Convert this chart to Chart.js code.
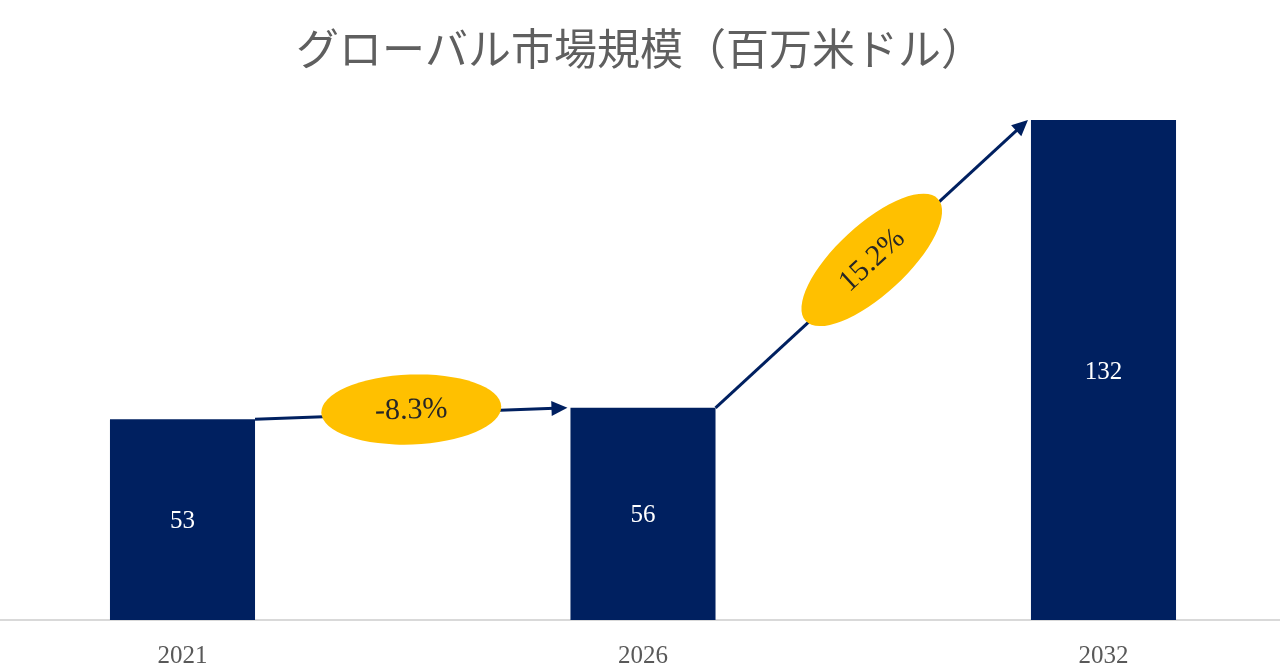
<!DOCTYPE html>
<html lang="ja">
<head>
<meta charset="utf-8">
<title>グローバル市場規模</title>
<script src="https://cdn.jsdelivr.net/npm/chart.js@4"></script>
<style>
  html, body { margin: 0; padding: 0; background: #fff; }
  #wrap { width: 1280px; height: 670px; }
</style>
</head>
<body>
<div id="wrap"><canvas id="mercado"></canvas></div>
<script>
// Datos
var years = ["2021", "2026", "2032"];
var marketSize = [53, 56, 132];
var growthLabels = ["-8.3%", "15.2%"];

var NAVY = "#002060";
var GOLD = "#FFC000";
var SERIF = "'Liberation Serif', 'Times New Roman', 'Noto Sans CJK JP', serif";

// Etiquetas de valor, flechas y elipses de crecimiento
var overlay = {
  id: "overlay",
  afterDatasetsDraw: function (chart) {
    var ctx = chart.ctx;
    var bars = chart.getDatasetMeta(0).data;

    ctx.save();
    // flechas entre barras
    for (var i = 0; i < growthLabels.length; i++) {
      var a = bars[i], b = bars[i + 1];
      var x1 = a.x + a.width / 2, y1 = a.y;
      var x2 = b.x - b.width / 2 - 3, y2 = b.y;
      var ang = Math.atan2(y2 - y1, x2 - x1);
      var head = 16;

      ctx.strokeStyle = NAVY;
      ctx.fillStyle = NAVY;
      ctx.lineWidth = 3;
      ctx.beginPath();
      ctx.moveTo(x1, y1);
      ctx.lineTo(x2 - head * 0.8 * Math.cos(ang), y2 - head * 0.8 * Math.sin(ang));
      ctx.stroke();

      ctx.beginPath();
      ctx.moveTo(x2, y2);
      ctx.lineTo(x2 - head * Math.cos(ang) + 7.5 * Math.sin(ang), y2 - head * Math.sin(ang) - 7.5 * Math.cos(ang));
      ctx.lineTo(x2 - head * Math.cos(ang) - 7.5 * Math.sin(ang), y2 - head * Math.sin(ang) + 7.5 * Math.cos(ang));
      ctx.closePath();
      ctx.fill();

      // elipse con la tasa
      var mx = (x1 + x2) / 2, my = (y1 + y2) / 2 - 4;
      ctx.save();
      ctx.translate(mx, my);
      ctx.rotate(ang);
      ctx.fillStyle = GOLD;
      ctx.beginPath();
      ctx.ellipse(0, 0, 90, 35, 0, 0, Math.PI * 2);
      ctx.fill();
      ctx.fillStyle = "#262626";
      ctx.font = "30px " + SERIF;
      ctx.textAlign = "center";
      ctx.textBaseline = "middle";
      ctx.fillText(growthLabels[i], 0, 1);
      ctx.restore();
    }

    // valores dentro de las barras
    ctx.fillStyle = "#ffffff";
    ctx.font = "25px " + SERIF;
    ctx.textAlign = "center";
    ctx.textBaseline = "middle";
    bars.forEach(function (bar, k) {
      ctx.fillText(String(marketSize[k]), bar.x, (bar.y + bar.base) / 2 + 2);
    });
    ctx.restore();
  }
};

var mercado = new Chart("mercado", {
  type: "bar",
  data: {
    datasets: [{
      data: marketSize.map(function (v, i) { return { x: i, y: v }; }),
      backgroundColor: NAVY,
      borderWidth: 0,
      barPercentage: 0.315,
      categoryPercentage: 1
    }]
  },
  options: {
    responsive: true,
    maintainAspectRatio: false,
    animation: false,
    layout: { padding: 0 },
    plugins: {
      legend: { display: false },
      tooltip: { enabled: false },
      title: {
        display: true,
        text: "グローバル市場規模（百万米ドル）",
        color: "#5f5f5f",
        font: { family: SERIF, size: 43, weight: "normal" },
        padding: { top: 28, bottom: 10 }
      }
    },
    scales: {
      x: {
        type: "linear",
        offset: false,
        min: -0.3963,
        max: 2.3833,
        grid: { display: false, drawTicks: false },
        border: { display: true, color: "#d9d9d9", width: 2 },
        afterBuildTicks: function (scale) {
          scale.ticks = years.map(function (y, i) { return { value: i }; });
        },
        afterFit: function (scale) {
          scale.height = 50;
        },
        ticks: {
          color: "#595959",
          font: { family: SERIF, size: 25 },
          padding: 21,
          maxRotation: 0,
          callback: function (v) { return years[v]; }
        }
      },
      y: {
        display: false,
        min: 0,
        max: 140
      }
    }
  },
  plugins: [overlay]
});
</script>
</body>
</html>
